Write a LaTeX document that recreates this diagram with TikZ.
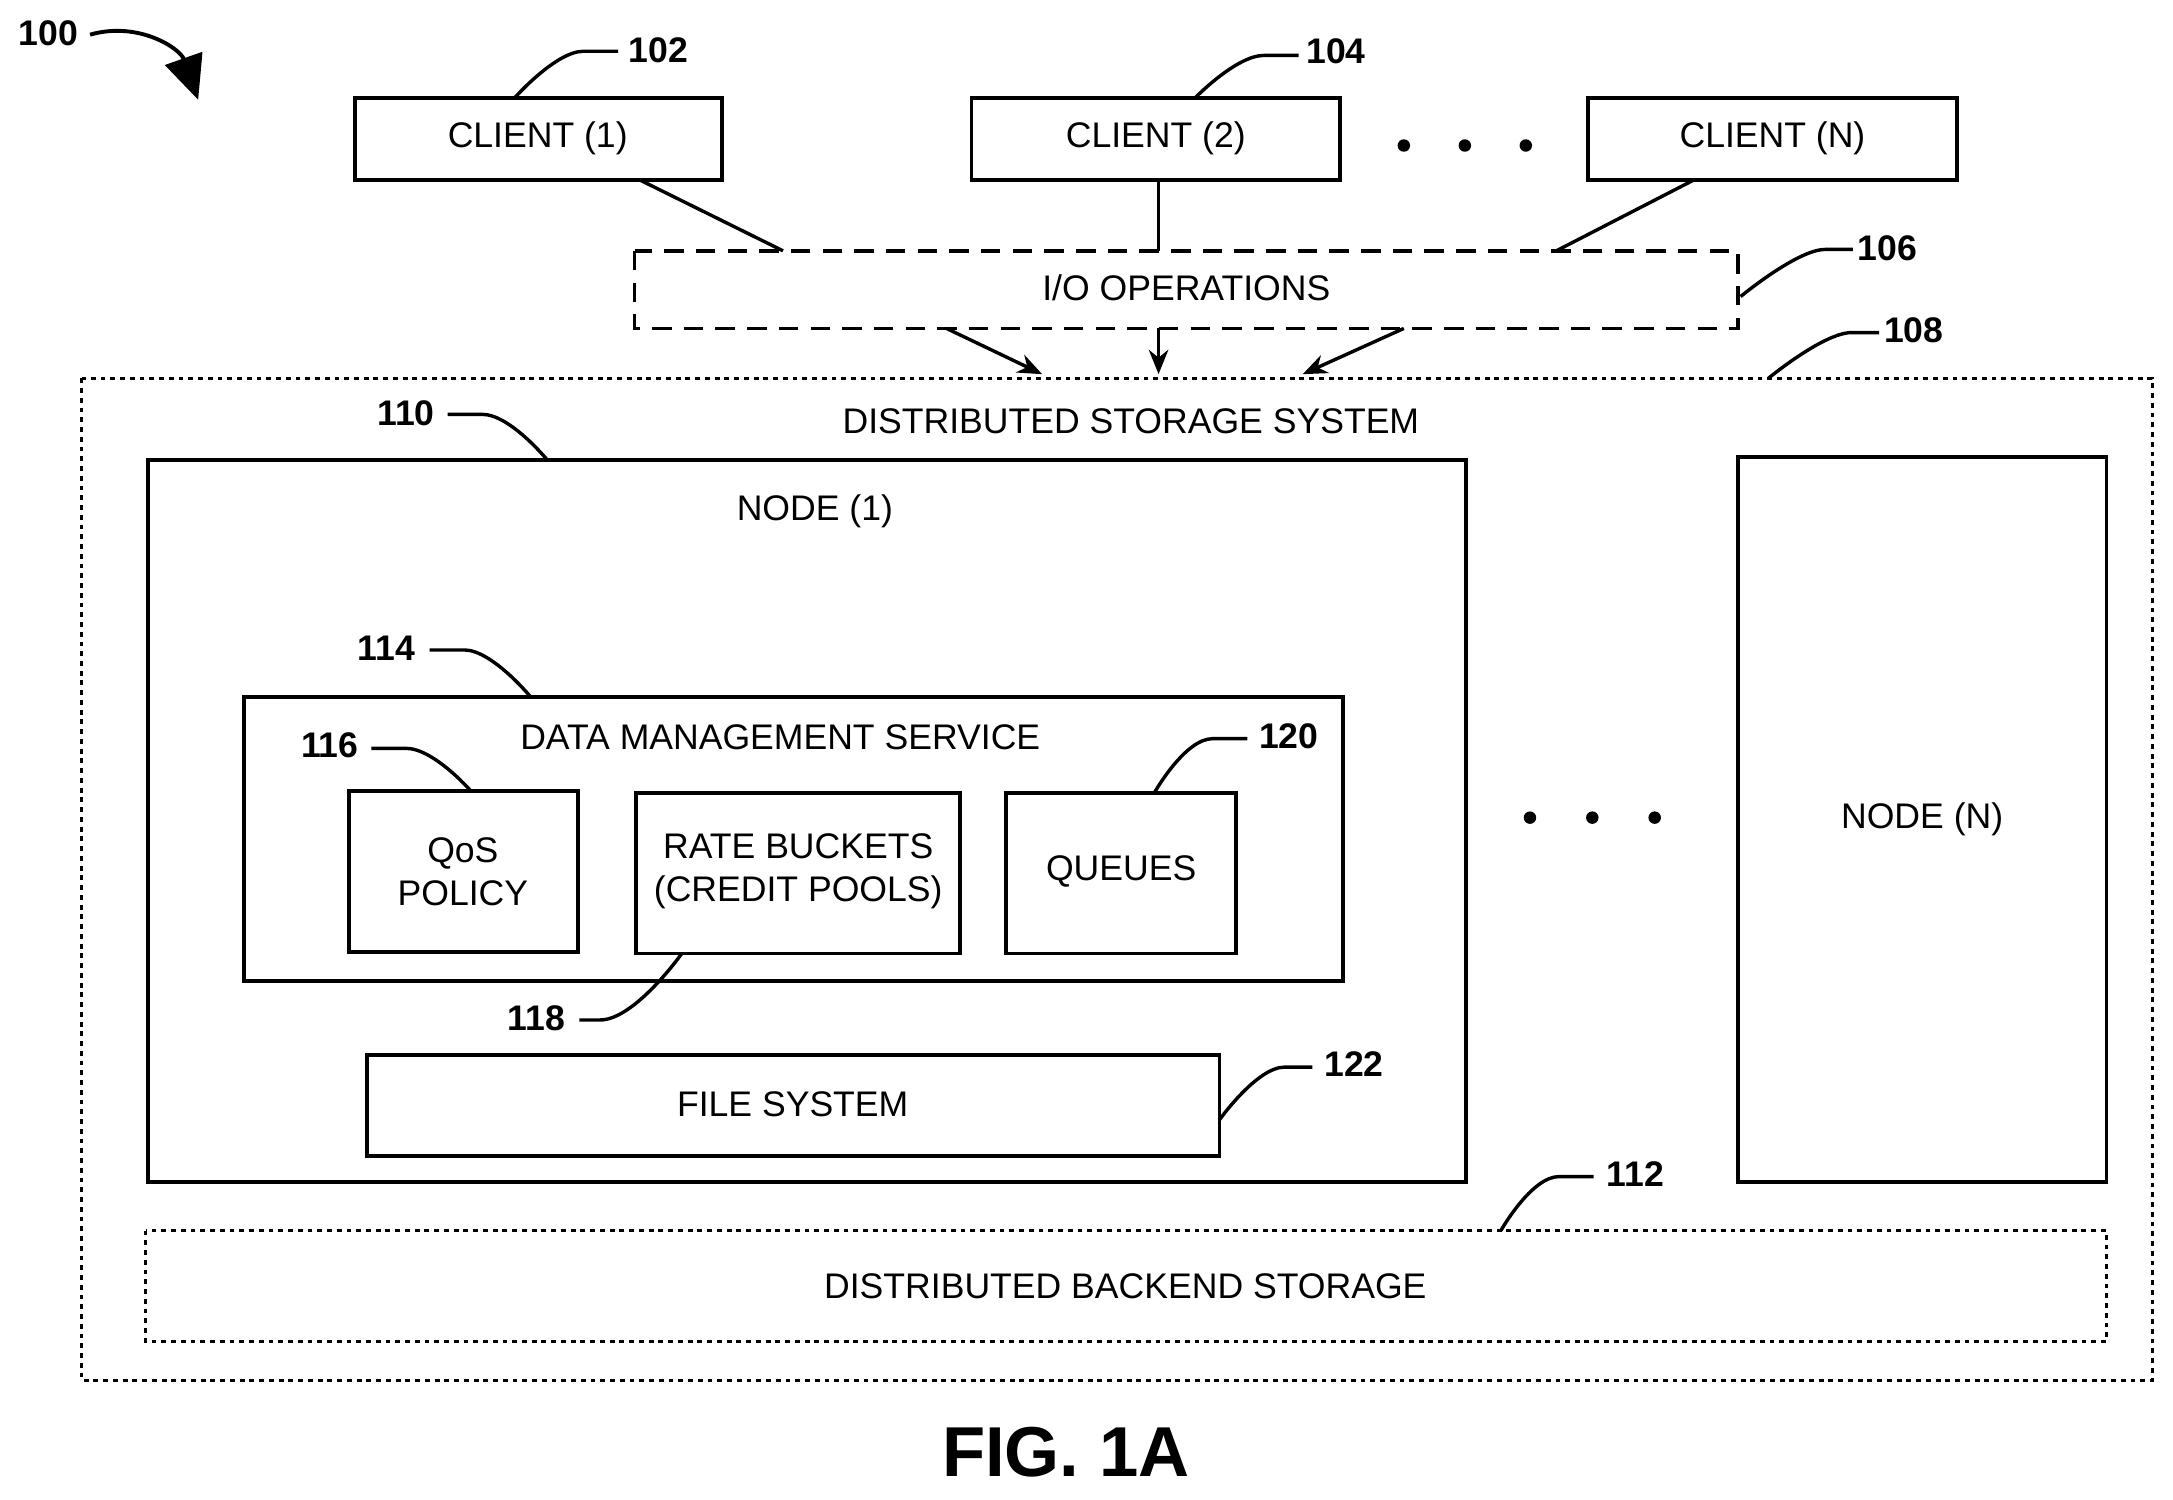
\documentclass[tikz,border=0pt]{standalone}
\usepackage{fontspec}
\setmainfont{Liberation Sans}
\usetikzlibrary{arrows.meta}
\begin{document}
\begin{tikzpicture}[x=0.01cm,y=-0.01cm,
  box/.style={draw,line width=0.8pt,inner sep=0pt},
  txt/.style={font=\fontsize{7.3}{8.8}\selectfont,align=center},
  lab/.style={font=\bfseries\fontsize{7.3}{8.8}\selectfont},
  lead/.style={line width=0.7pt},
  dsh/.style={draw,line width=0.7pt,dash pattern=on 4pt off 2.5pt},
  dot/.style={draw,line width=0.6pt,dash pattern=on 1pt off 1pt},
  arr/.style={line width=0.7pt,-{Stealth[length=5pt,width=4pt]}}]
\useasboundingbox (0,0) rectangle (1568,1082);
\newcommand{\bx}[4]{\draw[box] (#2) rectangle (#3); \node[txt] (#1) at ($ (#2)!0.5!(#3) $) {#4};}
% clients
\draw[box] (256,71) rectangle (521,130); \node[txt] (c1) at (388,100) {CLIENT (1)};
\draw[box] (701,71) rectangle (967,130); \node[txt] (c2) at (834,100) {CLIENT (2)};
\draw[box] (1146,71) rectangle (1412,130); \node[txt] (cn) at (1279,100) {CLIENT (N)};
\foreach \x in {1013,1057,1101} \fill (\x,105) circle (4.5);
% IO
\draw[dsh] (458,181) rectangle (1254,237); \node[txt] (io) at (856,208) {I/O OPERATIONS};
\coordinate (a1) at (462,130); \coordinate (a2) at (565,181);
\coordinate (b1) at (836,130); \coordinate (b2) at (836,181);
\coordinate (d1) at (1222,130); \coordinate (d2) at (1123,181);
\draw[lead] (a1)--(a2); \draw[lead] (b1)--(b2); \draw[lead] (d1)--(d2);
\coordinate (e1) at (683,237); \coordinate (e2) at (752,270);
\coordinate (f1) at (836,237); \coordinate (f2) at (836,270);
\coordinate (g1) at (1013,237); \coordinate (g2) at (940,270);
\draw[arr] (e1)--(e2); \draw[arr] (f1)--(f2); \draw[arr] (g1)--(g2);
% DSS
\draw[dot] (59,273) rectangle (1553,996); \node[txt] (dss) at (816,304) {DISTRIBUTED STORAGE SYSTEM};
\draw[box] (107,332) rectangle (1058,853); \node[txt] (n1) at (588,369) {NODE (1)};
\draw[box] (176,503) rectangle (969,708); \node[txt] (dms) at (563,532) {DATA MANAGEMENT SERVICE};
\draw[box] (252,571) rectangle (417,687); \node[txt] (qos) at (334,629) {QoS\\POLICY};
\draw[box] (459,572) rectangle (693,688); \node[txt] (rb) at (576,629) {RATE BUCKETS\\(CREDIT POOLS)};
\draw[box] (726,572) rectangle (892,688); \node[txt] (q) at (809,629) {QUEUES};
\draw[box] (265,761) rectangle (880,834); \node[txt] (fs) at (572,797) {FILE SYSTEM};
\foreach \x in {1104,1149,1194} \fill (\x,590) circle (4.5);
\draw[box] (1254,330) rectangle (1520,853); \node[txt] (nn) at (1387,591) {NODE (N)};
\draw[dot] (105,888) rectangle (1520,968); \node[txt] (be) at (812,928) {DISTRIBUTED BACKEND STORAGE};
\node[font=\bfseries\fontsize{14.5}{16}\selectfont] (fig) at (769,1048) {FIG. 1A};
% labels and leaders
\node[lab] (l100) at (35,24) {100};
\coordinate (s100) at (65,25); \coordinate (t100) at (143,72);
\draw[line width=0.8pt,-{Triangle[length=9pt,width=8pt]}] (s100) .. controls (100,15) and (130,35) .. (t100);
\newcommand{\ld}[6]{\node[lab] (l#1) at (#2) {#1}; \coordinate (s#1) at (#3); \coordinate (t#1) at (#4);
  \draw[lead] (s#1) -- ++(#5,0) .. controls +(#6) and +(0,0) .. (t#1);}
\ld{102}{475,36}{446,37}{371,71}{-25}{-20,0}
\ld{104}{964,37}{937,40}{862,71}{-25}{-20,0}
\ld{106}{1362,179}{1337,180}{1256,214}{-20}{-20,0}
\ld{108}{1381,238}{1356,240}{1276,273}{-20}{-20,0}
\ld{110}{293,298}{323,299}{395,332}{25}{20,0}
\ld{112}{1180,847}{1150,849}{1083,888}{-25}{-20,0}
\ld{114}{279,468}{310,469}{383,503}{25}{20,0}
\ld{116}{238,538}{268,540}{340,571}{25}{20,0}
\ld{118}{387,735}{418,736}{492,688}{15}{25,0}
\ld{120}{930,531}{900,533}{833,572}{-25}{-20,0}
\ld{122}{977,768}{947,770}{880,808}{-20}{-20,0}
\end{tikzpicture}
\end{document}
